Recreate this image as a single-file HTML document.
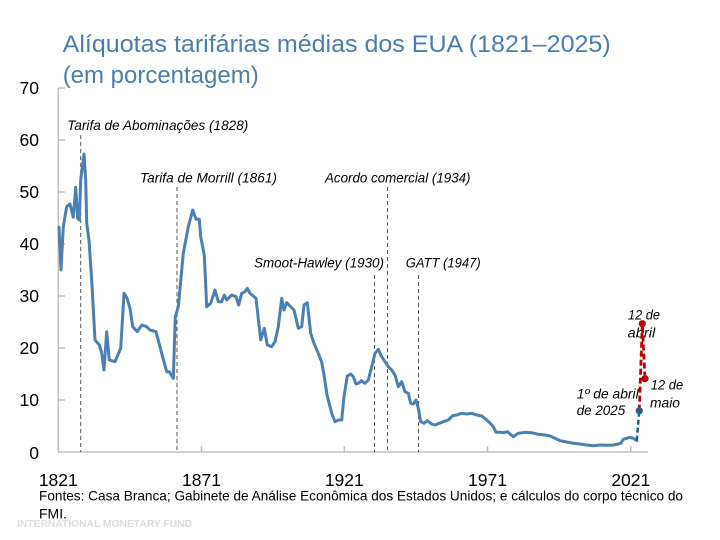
<!DOCTYPE html>
<html>
<head>
<meta charset="utf-8">
<style>
html,body{margin:0;padding:0;background:#fff;}
svg{display:block;}
text{font-family:"Liberation Sans",Arial,sans-serif;}
.ann{font-style:italic;font-size:14px;fill:#000;}
.tick{font-size:17.5px;fill:#000;}
</style>
</head>
<body>
<svg width="720" height="540" viewBox="0 0 720 540" xmlns="http://www.w3.org/2000/svg">
<rect width="720" height="540" fill="#fff"/>
<!-- Title -->
<text x="62.7" y="52" font-size="24" fill="#4a7eb0" textLength="548" lengthAdjust="spacingAndGlyphs">Alíquotas tarifárias médias dos EUA (1821–2025)</text>
<text x="62.7" y="83" font-size="24" fill="#4a7eb0" textLength="196" lengthAdjust="spacingAndGlyphs">(em porcentagem)</text>

<!-- Axes -->
<g stroke="#bfbfbf" stroke-width="1.5" fill="none">
<line x1="58.3" y1="88" x2="58.3" y2="452"/>
<line x1="58.3" y1="452" x2="648" y2="452"/>
<line x1="58.3" y1="88" x2="65" y2="88"/>
<line x1="58.3" y1="140" x2="65" y2="140"/>
<line x1="58.3" y1="192" x2="65" y2="192"/>
<line x1="58.3" y1="244" x2="65" y2="244"/>
<line x1="58.3" y1="296" x2="65" y2="296"/>
<line x1="58.3" y1="348" x2="65" y2="348"/>
<line x1="58.3" y1="400" x2="65" y2="400"/>
<line x1="201.5" y1="446" x2="201.5" y2="452"/>
<line x1="344.3" y1="446" x2="344.3" y2="452"/>
<line x1="487.5" y1="446" x2="487.5" y2="452"/>
<line x1="630.8" y1="446" x2="630.8" y2="452"/>
</g>

<!-- Y labels -->
<g class="tick" text-anchor="end">
<text x="39" y="94">70</text>
<text x="39" y="146">60</text>
<text x="39" y="198">50</text>
<text x="39" y="250">40</text>
<text x="39" y="302">30</text>
<text x="39" y="354">20</text>
<text x="39" y="406">10</text>
<text x="39" y="459">0</text>
</g>
<!-- X labels -->
<g class="tick" text-anchor="middle">
<text x="58.3" y="486">1821</text>
<text x="201.5" y="486">1871</text>
<text x="344.3" y="486">1921</text>
<text x="487.5" y="486">1971</text>
<text x="630.8" y="486">2021</text>
</g>

<!-- Event dashed lines -->
<g stroke="#555" stroke-width="1" stroke-dasharray="4,3" fill="none">
<line x1="80.7" y1="135" x2="80.7" y2="452"/>
<line x1="177" y1="187" x2="177" y2="452"/>
<line x1="374.5" y1="275" x2="374.5" y2="452"/>
<line x1="387.5" y1="187" x2="387.5" y2="452"/>
<line x1="418.5" y1="275" x2="418.5" y2="452"/>
</g>

<!-- Annotations -->
<text class="ann" x="67.3" y="130" textLength="181" lengthAdjust="spacingAndGlyphs">Tarifa de Abominações (1828)</text>
<text class="ann" x="140" y="182.5" textLength="137" lengthAdjust="spacingAndGlyphs">Tarifa de Morrill (1861)</text>
<text class="ann" x="325" y="182.5" textLength="145.5" lengthAdjust="spacingAndGlyphs">Acordo comercial (1934)</text>
<text class="ann" x="254" y="267.3" textLength="130" lengthAdjust="spacingAndGlyphs">Smoot-Hawley (1930)</text>
<text class="ann" x="405.7" y="267.3" textLength="75" lengthAdjust="spacingAndGlyphs">GATT (1947)</text>
<text class="ann" x="628" y="319.3" textLength="32" lengthAdjust="spacingAndGlyphs">12 de</text>
<text class="ann" x="627.7" y="337.3" textLength="27.5" lengthAdjust="spacingAndGlyphs">abril</text>
<text class="ann" x="650.7" y="389.3" textLength="32.5" lengthAdjust="spacingAndGlyphs">12 de</text>
<text class="ann" x="650" y="407.3" textLength="30" lengthAdjust="spacingAndGlyphs">maio</text>
<text class="ann" x="576.7" y="398.3" textLength="62" lengthAdjust="spacingAndGlyphs">1º de abril</text>
<text class="ann" x="576.7" y="415" textLength="48.5" lengthAdjust="spacingAndGlyphs">de 2025</text>

<!-- Main series -->
<polyline fill="none" stroke="#4a80b3" stroke-width="3" stroke-linejoin="round" stroke-linecap="round" points="
59,227.3 61,270 63.3,226.7 66.7,206.7 70,204 73.3,217.3 75.7,187.3 77.7,218.3 79.3,220 80.7,180 84,154 85.7,180 86.7,223 89,240 91.7,280 95,340
99.3,345 101.5,352 104,370 106.7,331.7 109.3,360 115,361.7 120.7,348.3 124,293.3 127,298 130,308.3 132.7,326.7 137.3,331.7 141.7,325 146.7,326.7 150,330 156,331.7 161.7,353.3 166.7,371.7 169.3,371.7 173.3,378.3 175.3,316.7 178.3,306.7 183.3,253.3 188.3,226.7 192.7,210 196,219.3 199.3,219.3 200.7,236.7 204.3,255 206.7,306.7 210.7,303.3 215,290 218.3,301.7 221.7,301.7 224.3,295 226.7,300 231.7,295 236,296.7 238.7,305 241.7,293.3 245,291.7 247.3,288.3 250,293.3 256,298.3 260.7,340 264.3,328.3 267.3,345 271.7,346.7 275,341.7 278.3,326.7 281.7,298.3 284,310 286.7,302.7 290.7,306.7 294,310 298.3,328.3 301.7,326.7 304,305 307.3,302.7 310.7,333.3 314,343.3 318.3,353.3 321.7,362 324,375 327,395 331.7,413.3 335,421.7 338.3,420 341.7,420 344,396.7 347.3,376 350.7,374 353.3,376.7 356,384 358.3,383.3 361.7,380.7 365,383.3 368.3,380 371.7,366.7 375,353.3 378.3,349.3 381.7,356.7 385,361.7 388.3,366.7 391.7,370 395,375 398.3,386.7 401.7,381.7 405,391.7 408.3,393.3 410.7,403.3 413.3,404 416,400 418.3,408.3 420.7,421.7 424,423.3 427.3,420.7 431.7,424 435,425 439.3,423.3 443.3,421.7 448.3,420 452.7,415.7 456.7,415 461.7,413.3 466.7,414 471.7,413.3 476.7,415 481.7,416 486,419.3 490,423 493.3,426.7 496,432.3 500,432.3 503.3,432.7 507.7,431.7 510,434 513.3,436.7 518.3,433.3 525,432.3 531.7,432.7 538.3,434.3 545,435 550,436 555,438.3 560,440.7 566.7,442 573.3,443.3 580,444 586.7,445 593.3,445.7 600,445 606.7,445.3 613.3,445 618.3,444 620.7,443.3 623.3,439.3 626.7,438.3 630,437.3 633.3,438.3 636.7,440.7"/>

<!-- 2025 projections -->
<line x1="636.7" y1="440.7" x2="639.3" y2="410.7" stroke="#1f5f8b" stroke-width="2.5" stroke-dasharray="5,3"/>
<polyline points="639.3,410.7 642.3,323.7 645,378.7" fill="none" stroke="#c00000" stroke-width="2.8" stroke-dasharray="6,3"/>
<circle cx="642.3" cy="323.7" r="3.6" fill="#c00000"/>
<circle cx="645" cy="378.7" r="3.6" fill="#c00000"/>
<circle cx="639.3" cy="410.7" r="3.6" fill="#1f5f8b"/>

<!-- Source -->
<text x="39" y="500.5" font-size="14" fill="#000" textLength="644" lengthAdjust="spacingAndGlyphs">Fontes: Casa Branca; Gabinete de Análise Econômica dos Estados Unidos; e cálculos do corpo técnico do</text>
<text x="39" y="518.5" font-size="14" fill="#000">FMI.</text>
<text x="17" y="527" font-size="10" font-weight="bold" fill="#dcdcdc" textLength="175" lengthAdjust="spacingAndGlyphs">INTERNATIONAL MONETARY FUND</text>
</svg>
</body>
</html>
